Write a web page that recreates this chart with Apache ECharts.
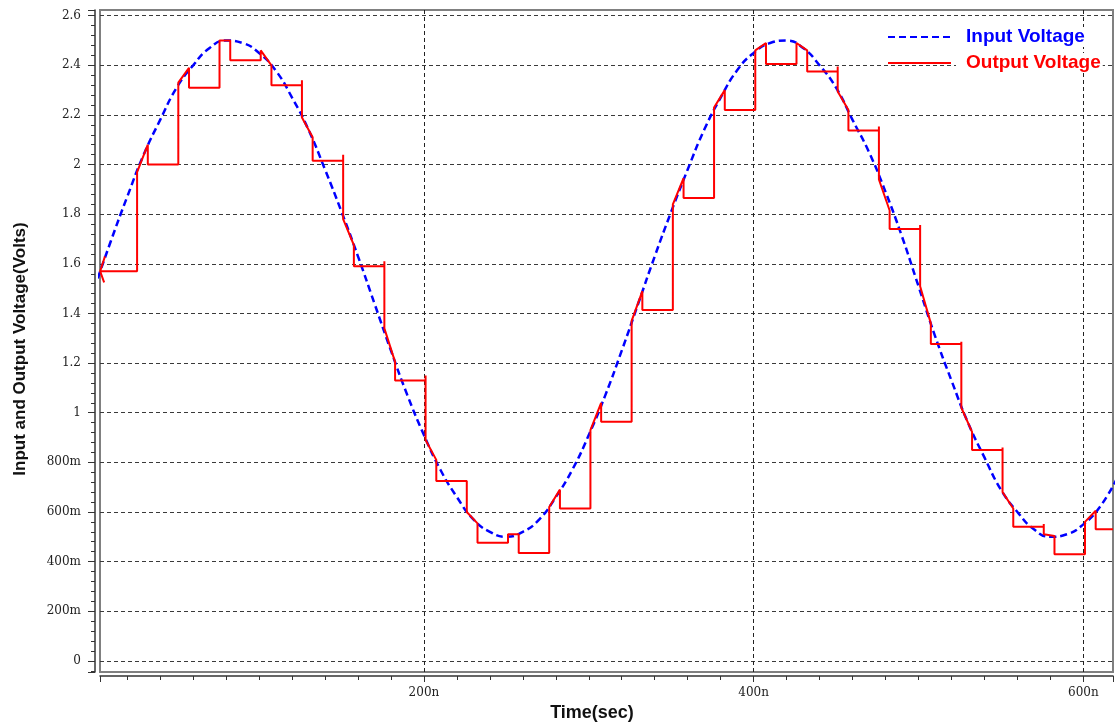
<!DOCTYPE html>
<html>
<head>
<meta charset="utf-8">
<script src="https://cdn.jsdelivr.net/npm/echarts@6/dist/echarts.min.js"></script>
<style>
  html, body { margin: 0; padding: 0; background: #ffffff; }
  #chart { width: 1115px; height: 727px; }
</style>
</head>
<body>
<div id="chart"></div>
<script>
// Input sine wave, sampled every 10 ns (time in ns, volts)
const inputTime = [0, 10, 20, 30, 40, 50, 60, 70, 80, 90, 100, 110, 120, 130, 140, 150, 160, 170, 180, 190,
  200, 210, 220, 230, 240, 250, 260, 270, 280, 290, 300, 310, 320, 330, 340, 350, 360, 370, 380, 390,
  400, 410, 420, 430, 440, 450, 460, 470, 480, 490, 500, 510, 520, 530, 540, 550, 560, 570, 580, 590,
  600, 610, 620];
const inputVolt = [1.50, 1.69, 1.87, 2.04, 2.18, 2.31, 2.40, 2.47, 2.50, 2.49, 2.45, 2.38, 2.27, 2.14, 1.98, 1.81, 1.63, 1.44, 1.25, 1.07,
  0.91, 0.77, 0.66, 0.57, 0.52, 0.50, 0.52, 0.57, 0.66, 0.77, 0.91, 1.07, 1.25, 1.44, 1.63, 1.81, 1.98, 2.14, 2.27, 2.38,
  2.45, 2.49, 2.50, 2.47, 2.40, 2.31, 2.18, 2.05, 1.89, 1.71, 1.51, 1.31, 1.13, 0.96, 0.82, 0.69, 0.60, 0.53, 0.50, 0.51,
  0.55, 0.62, 0.73];

// Output of the sample-and-hold: start-up glitch, then one track/hold cycle per clock
const leadTime = [6.5, 3.6, 6.0, 3.6];
const leadVolt = [1.63, 1.57, 1.525, 1.57];
const trackStart = [26, 51, 76, 101, 126, 151, 176, 201, 226, 251, 276, 301,
  326, 351, 376, 401, 426, 451, 476, 501, 526, 551, 576, 601];
const trackEnd = [32.5, 57.5, 82.5, 107.5, 132.5, 157.5, 182.5, 207.5, 232.5, 257.5, 282.5, 307.5,
  332.5, 357.5, 382.5, 407.5, 432.5, 457.5, 482.5, 507.5, 532.5, 557.5, 582.5, 607.5];
const trackStartVolt = [1.97, 2.33, 2.50, 2.46, 2.19, 1.78, 1.34, 0.89, 0.60, 0.51, 0.62, 0.93,
  1.37, 1.84, 2.23, 2.46, 2.49, 2.295, 1.94, 1.51, 1.02, 0.68, 0.51, 0.56];
const trackEndVolt = [2.08, 2.39, 2.50, 2.40, 2.11, 1.675, 1.205, 0.81, 0.554, 0.51, 0.69, 1.04,
  1.49, 1.945, 2.30, 2.49, 2.46, 2.22, 1.815, 1.36, 0.923, 0.614, 0.503, 0.605];
const holdVolt = [2.00, 2.31, 2.42, 2.32, 2.015, 1.59, 1.13, 0.725, 0.476, 0.435, 0.614, 0.964,
  1.414, 1.865, 2.22, 2.405, 2.375, 2.137, 1.74, 1.277, 0.85, 0.54, 0.43, 0.53];
// small overshoot on the switching edge while the input is falling
const edgeSpikeVolt = [null, null, null, null, 2.34, 2.04, 1.61, 1.15, 0.733, null, null, null,
  null, null, null, null, null, 2.395, 2.153, 1.757, 1.286, 0.86, 0.551, null];
const endTime = 618;

const xTickLabels = ['200n', '400n', '600n'];
const yTickLabels = ['0', '200m', '400m', '600m', '800m', '1', '1.2', '1.4', '1.6', '1.8', '2', '2.2', '2.4', '2.6'];

const inputData = inputTime.map((t, i) => [t, inputVolt[i]]);

const outputData = leadTime.map((t, i) => [t, leadVolt[i]]);
let prevHold = leadVolt[leadVolt.length - 1];
trackStart.forEach((ts, i) => {
  outputData.push([ts, prevHold]);
  if (edgeSpikeVolt[i] !== null) outputData.push([ts, edgeSpikeVolt[i]]);
  outputData.push([ts, trackStartVolt[i]]);
  outputData.push([trackEnd[i], trackEndVolt[i]]);
  outputData.push([trackEnd[i], holdVolt[i]]);
  prevHold = holdVolt[i];
});
outputData.push([endTime, prevHold]);

function pickLabel(list, step, firstIndexValue) {
  return function (v) {
    const i = Math.round((v - firstIndexValue) / step);
    if (Math.abs(v - (firstIndexValue + i * step)) > 1e-6) return '';
    return (i >= 0 && i < list.length) ? list[i] : '';
  };
}

const axisColor = '#333333';
const tickFont = { fontFamily: 'DejaVu Serif', fontSize: 12, color: '#222222' };
const titleFont = { fontFamily: 'Liberation Sans', fontWeight: 'bold', fontSize: 18, color: '#111111' };

const chart = echarts.init(document.getElementById('chart'), null, { renderer: 'canvas' });
chart.setOption({
  backgroundColor: '#ffffff',
  animation: false,
  grid: {
    left: 100, right: 2, top: 10, bottom: 55,
    show: true, borderColor: '#808080', borderWidth: 2, backgroundColor: 'transparent'
  },
  legend: {
    orient: 'vertical',
    left: 887, top: 27,
    padding: 0,
    itemWidth: 63, itemHeight: 12, itemGap: 6,
    itemStyle: { opacity: 0 },
    data: [
      { name: 'Input Voltage', textStyle: { color: '#0000ff' } },
      { name: 'Output Voltage', textStyle: { color: '#ff0000' } }
    ],
    textStyle: {
      fontFamily: 'Liberation Sans', fontWeight: 'bold', fontSize: 19, lineHeight: 20,
      backgroundColor: '#ffffff', padding: [0, 2, 0, 10]
    }
  },
  xAxis: {
    type: 'value',
    min: 3.5, max: endTime,
    splitNumber: 3,
    offset: 4,
    axisLine: { show: true, onZero: false, lineStyle: { color: axisColor, width: 1.5 } },
    axisTick: { show: true, length: 6, lineStyle: { color: axisColor } },
    minorTick: { show: true, splitNumber: 10, length: 4, lineStyle: { color: axisColor } },
    minorSplitLine: { show: false },
    axisLabel: Object.assign({ showMinLabel: false, showMaxLabel: false, margin: 11,
      formatter: pickLabel(xTickLabels, 200, 200) }, tickFont),
    splitLine: { show: true, showMinLine: false, showMaxLine: false,
      lineStyle: { color: '#222222', type: [4, 3], width: 1 } },
    name: 'Time(sec)',
    nameLocation: 'middle',
    nameGap: 28,
    nameTextStyle: Object.assign({ padding: [0, 29, 0, 0] }, titleFont)
  },
  yAxis: {
    type: 'value',
    min: -0.045, max: 2.623,
    splitNumber: 13,
    offset: 5,
    axisLine: { show: true, onZero: false, lineStyle: { color: axisColor, width: 1.5 } },
    axisTick: { show: true, length: 7, lineStyle: { color: axisColor } },
    minorTick: { show: true, splitNumber: 5, length: 4, lineStyle: { color: axisColor } },
    minorSplitLine: { show: false },
    axisLabel: Object.assign({ showMinLabel: false, showMaxLabel: false, margin: 14,
      formatter: pickLabel(yTickLabels, 0.2, 0) }, tickFont),
    splitLine: { show: true, showMinLine: false, showMaxLine: false,
      lineStyle: { color: '#3a3a3a', type: [4, 3], width: 1 } },
    name: 'Input and Output Voltage(Volts)',
    nameLocation: 'middle',
    nameGap: 66,
    nameRotate: 90,
    nameTextStyle: Object.assign({ padding: [0, 16, 0, 0] }, titleFont, { fontSize: 17 })
  },
  series: [
    {
      name: 'Input Voltage',
      type: 'line',
      data: inputData,
      smooth: true,
      symbol: 'none',
      lineStyle: { color: '#0000ff', width: 2.5, type: [7, 4] },
      itemStyle: { color: '#0000ff' },
      z: 2
    },
    {
      name: 'Output Voltage',
      type: 'line',
      data: outputData,
      symbol: 'none',
      lineStyle: { color: '#ff0000', width: 2 },
      itemStyle: { color: '#ff0000' },
      z: 3
    }
  ]
});
</script>
</body>
</html>
